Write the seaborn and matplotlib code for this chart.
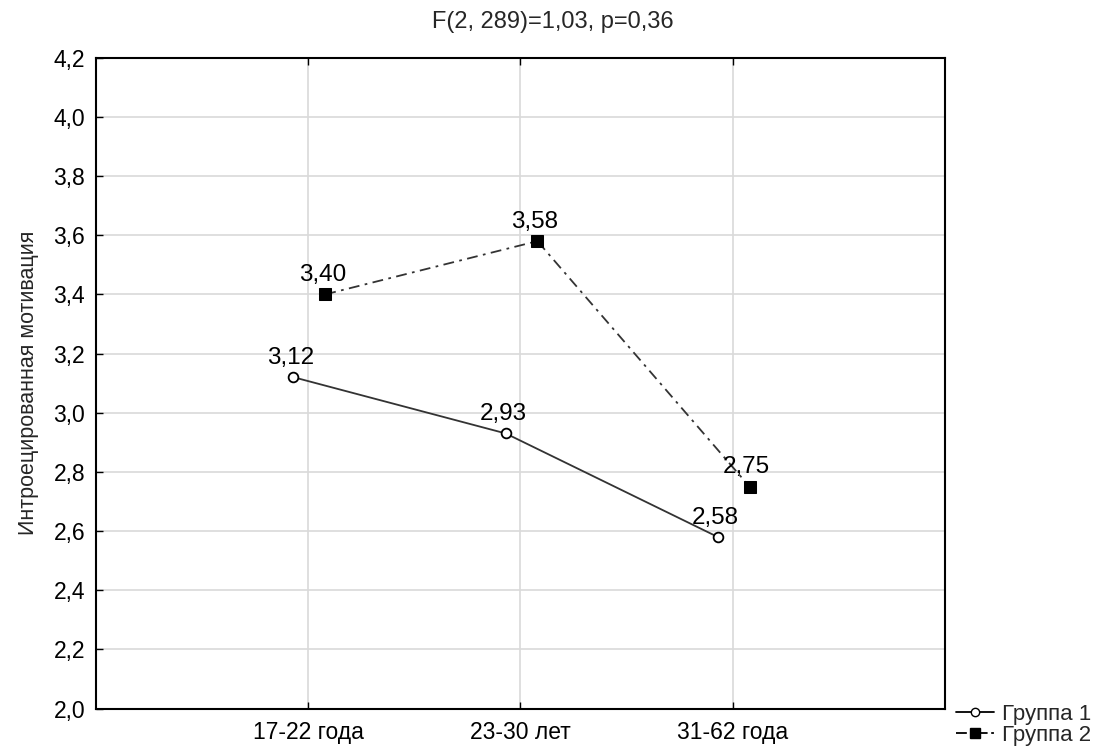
import numpy as np
import pandas as pd
import seaborn as sns
from matplotlib import pyplot as plt
from matplotlib.lines import Line2D

sns.set_theme(style="whitegrid")
plt.rcParams['font.family'] = ['Liberation Sans', 'DejaVu Sans']

# data
age_groups = ['17-22 года', '23-30 лет', '31-62 года']
group1 = [3.12, 2.93, 2.58]
group2 = [3.40, 3.58, 2.75]
series_names = ['Группа 1', 'Группа 2']
title = 'F(2, 289)=1,03, p=0,36'
ylabel = 'Интроецированная мотивация'

df = pd.DataFrame({
    'age': age_groups * 2,
    'value': group1 + group2,
    'group': [series_names[0]] * 3 + [series_names[1]] * 3,
})
df['pos'] = df.groupby('group').cumcount()
# small dodge so the two series do not overlap
df['x'] = df['pos'] + df['group'].map({series_names[0]: -0.07, series_names[1]: 0.08})

fig = plt.figure(figsize=(11.05, 7.49), dpi=100)
ax = fig.add_axes([0.087, 0.054, 0.768, 0.869])

g1 = df[df.group == series_names[0]]
g2 = df[df.group == series_names[1]]
sns.lineplot(data=g1, x='x', y='value', ax=ax, color='#333333', lw=1.3,
             marker='o', markersize=7, markerfacecolor='white',
             markeredgecolor='black', markeredgewidth=1.3)
sns.lineplot(data=g2, x='x', y='value', ax=ax, color='#333333', lw=1.3,
             linestyle=(0, (6, 3, 1.5, 3)),
             marker='s', markersize=9, markerfacecolor='black',
             markeredgecolor='black')

for _, r in df.iterrows():
    ax.annotate(f"{r['value']:.2f}".replace('.', ','), (r['x'], r['value']),
                xytext=(-2, 6), textcoords='offset points', ha='center',
                va='bottom', fontsize=17.5, color='black')

ax.set_xlim(-1, 3)
ax.set_ylim(2.0, 4.2)
ax.set_xticks(range(len(age_groups)))
ax.set_xticklabels(age_groups)
yt = np.arange(2.0, 4.21, 0.2)
ax.set_yticks(yt)
ax.set_yticklabels([f"{v:.1f}".replace('.', ',') for v in yt])
ax.tick_params(axis='both', direction='in', length=5, width=1, labelsize=16.5,
               colors='black', left=True, bottom=True, top=True, pad=8)
ax.tick_params(axis='x', pad=9)
ax.grid(True, color='#d9d9d9', lw=1.2)
for s in ax.spines.values():
    s.set_color('black')
    s.set_linewidth(1.5)
ax.set_xlabel('')
ax.set_ylabel(ylabel, fontsize=15.5, family=['Liberation Sans Narrow', 'Liberation Sans'],
              labelpad=10)
fig.suptitle(title, fontsize=17, y=0.985)

handles = [
    Line2D([], [], color='black', lw=1.3, marker='o', markersize=6,
           markerfacecolor='white'),
    Line2D([], [], color='black', lw=1.3, linestyle=(0, (6, 2, 1.5, 2)),
           marker='s', markersize=7),
]
fig.legend(handles, series_names, loc='lower right', bbox_to_anchor=(1.0, -0.014),
           frameon=False, fontsize=16, handlelength=1.7, handletextpad=0.4,
           labelspacing=0.0, borderaxespad=0.2)

fig.savefig('out.png', dpi=100, facecolor='white')
